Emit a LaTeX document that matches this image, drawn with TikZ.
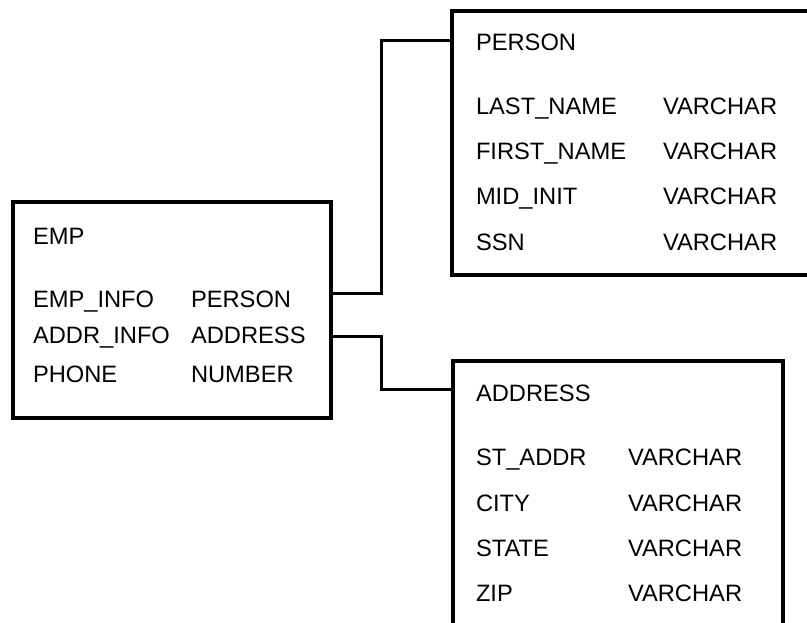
\documentclass[tikz,border=0pt]{standalone}
\usepackage{fontspec}
\setmainfont{Liberation Sans}
\begin{document}
\begin{tikzpicture}[x=1pt,y=-1pt,
  tbox/.style={draw=black, line width=3.4pt, rectangle, inner sep=0pt, outer sep=0pt, anchor=north west},
  lbl/.style={anchor=base west, inner sep=0pt, outer sep=0pt, font=\fontsize{23.7}{28}\selectfont, text=black},
  conn/.style={draw=black, line width=3pt}]
\clip (0,0) rectangle (807,623);
\fill[white] (0,0) rectangle (807,623);
% boxes
\node[tbox, minimum width=318pt, minimum height=216pt] (emp) at (13,202) {};
\node[tbox, minimum width=370pt, minimum height=264pt] (person) at (452,11) {};
\node[tbox, minimum width=330pt, minimum height=300pt] (address) at (453,361) {};
% EMP texts
\node[lbl] (empT) at (33,244) {EMP};
\node[lbl] (e1) at (33,307) {EMP\_INFO};
\node[lbl] (e2) at (33,343) {ADDR\_INFO};
\node[lbl] (e3) at (33,382) {PHONE};
\node[lbl] (e1t) at (191,307) {PERSON};
\node[lbl] (e2t) at (191,343) {ADDRESS};
\node[lbl] (e3t) at (191,382) {NUMBER};
% PERSON texts
\node[lbl] (personT) at (476,51) {PERSON};
\node[lbl] (p1) at (476,115) {LAST\_NAME};
\node[lbl] (p2) at (476,160) {FIRST\_NAME};
\node[lbl] (p3) at (476,205) {MID\_INIT};
\node[lbl] (p4) at (476,251) {SSN};
\node[lbl] (p1t) at (663,115) {VARCHAR};
\node[lbl] (p2t) at (663,160) {VARCHAR};
\node[lbl] (p3t) at (663,205) {VARCHAR};
\node[lbl] (p4t) at (663,251) {VARCHAR};
% ADDRESS texts
\node[lbl] (addressT) at (476,401) {ADDRESS};
\node[lbl] (a1) at (476,465) {ST\_ADDR};
\node[lbl] (a2) at (476,511) {CITY};
\node[lbl] (a3) at (476,556) {STATE};
\node[lbl] (a4) at (476,601) {ZIP};
\node[lbl] (a1t) at (628,465) {VARCHAR};
\node[lbl] (a2t) at (628,511) {VARCHAR};
\node[lbl] (a3t) at (628,556) {VARCHAR};
\node[lbl] (a4t) at (628,601) {VARCHAR};
% connectors
\coordinate (j1) at (381,294);
\coordinate (j2) at (381,336);
\draw[conn] (emp.east |- j1) -- (j1) |- (person.west |- 0,41);
\draw[conn] (emp.east |- j2) -- (j2) |- (address.west |- 0,389);
\end{tikzpicture}
\end{document}
